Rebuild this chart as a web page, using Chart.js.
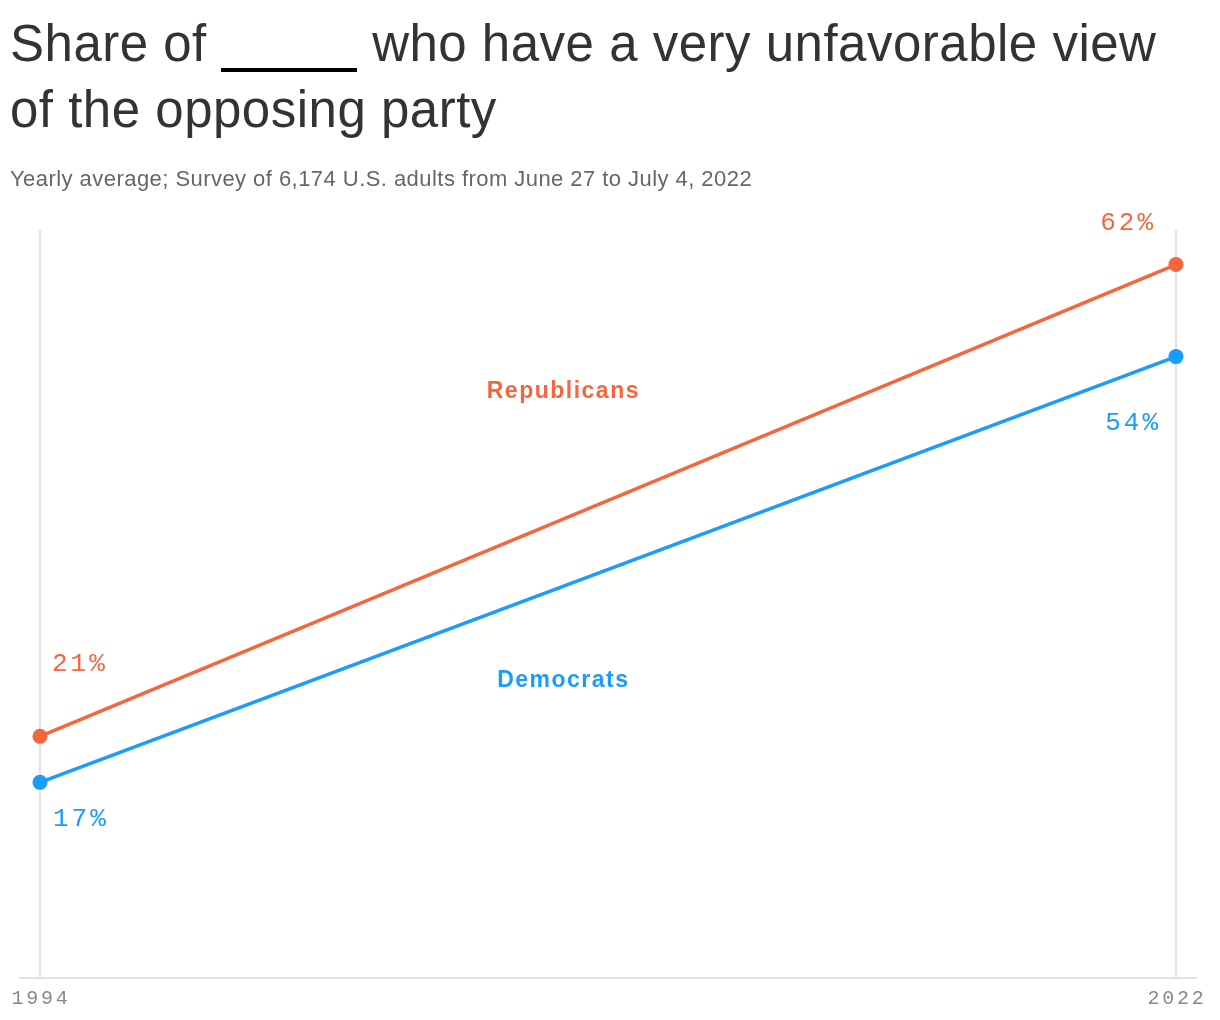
<!DOCTYPE html>
<html>
<head>
<meta charset="utf-8">
<script src="https://cdn.jsdelivr.net/npm/chart.js@4.4.1/dist/chart.umd.min.js"></script>
<style>
  html, body { margin: 0; padding: 0; background: #fff; width: 1220px; height: 1020px; overflow: hidden; }
  #wrap { position: relative; width: 1220px; height: 1020px; }
  #chart { position: absolute; left: 0; top: 0; }
  #title { position: absolute; left: 10px; top: 11px; margin: 0; font-family: "Liberation Sans", Arial, sans-serif; font-weight: 400; font-size: 51px; line-height: 66px; color: #333; letter-spacing: 0.5px; white-space: nowrap; }
  #title .blank { display: inline-block; width: 136px; height: 10px; border-bottom: 4px solid #000; vertical-align: baseline; margin-bottom: -11px; }
  #subtitle { position: absolute; left: 10px; top: 166px; margin: 0; font-family: "Liberation Sans", Arial, sans-serif; font-size: 22px; line-height: 26px; color: #666; letter-spacing: 0.45px; white-space: nowrap; }
</style>
</head>
<body>
<div id="wrap">
  <canvas id="chart" width="1220" height="1020"></canvas>
  <h1 id="title">Share of <span class="blank"></span> who have a very unfavorable view<br>of the opposing party</h1>
  <p id="subtitle">Yearly average; Survey of 6,174 U.S. adults from June 27 to July 4, 2022</p>
</div>
<script>
const years = [1994, 2022];
const tickLabels = ['1994', '2022'];
const republicans = [21, 62];
const democrats = [17, 54];
const seriesNames = ['Republicans', 'Democrats'];
const colors = ['#F4673E', '#189DFC'];

const toPoints = (vals) => years.map((y, i) => ({ x: y, y: vals[i] }));

const labelPlugin = {
  id: 'labels',
  beforeDatasetsDraw(chart) {
    const ctx = chart.ctx;
    const xs = chart.scales.x, ys = chart.scales.y;
    const area = chart.chartArea;
    const y0 = ys.getPixelForValue(0);
    ctx.save();
    ctx.strokeStyle = '#e2e2e2';
    ctx.lineWidth = 2;
    ctx.beginPath();
    ctx.moveTo(area.left - 21, y0);
    ctx.lineTo(area.right + 21, y0);
    ctx.stroke();
    // tick labels
    ctx.fillStyle = '#888888';
    ctx.font = '20px "Liberation Mono", "DejaVu Sans Mono", monospace';
    ctx.letterSpacing = '2.8px';
    ctx.textAlign = 'center';
    ctx.textBaseline = 'alphabetic';
    years.forEach((yr, i) => {
      ctx.fillText(tickLabels[i], xs.getPixelForValue(yr) + 1, y0 + 26);
    });
    ctx.restore();
  },
  afterDatasetsDraw(chart) {
    const ctx = chart.ctx;
    const xs = chart.scales.x, ys = chart.scales.y;
    ctx.save();
    // value labels
    ctx.font = '26px "Liberation Mono", "DejaVu Sans Mono", monospace';
    ctx.letterSpacing = '3px';
    ctx.textBaseline = 'middle';
    const put = (txt, color, x, y, align) => {
      ctx.fillStyle = color; ctx.textAlign = align; ctx.fillText(txt, x, y);
    };
    const xa = xs.getPixelForValue(years[0]);
    const xb = xs.getPixelForValue(years[1]);
    put(republicans[0] + '%', colors[0], xa + 12, ys.getPixelForValue(republicans[0]) - 72, 'left');
    put(democrats[0] + '%', colors[1], xa + 13, ys.getPixelForValue(democrats[0]) + 37, 'left');
    put(republicans[1] + '%', colors[0], xb - 20, ys.getPixelForValue(republicans[1]) - 41, 'right');
    put(democrats[1] + '%', colors[1], xb - 15, ys.getPixelForValue(democrats[1]) + 67, 'right');
    // series labels
    ctx.font = 'bold 23px "Liberation Sans", Arial, sans-serif';
    ctx.letterSpacing = '1.5px';
    ctx.textAlign = 'center';
    ctx.textBaseline = 'alphabetic';
    const xm = xs.getPixelForValue(2006.9);
    ctx.fillStyle = colors[0];
    ctx.fillText(seriesNames[0], xm, ys.getPixelForValue(51.1) + 8);
    ctx.fillStyle = colors[1];
    ctx.fillText(seriesNames[1], xm, ys.getPixelForValue(26.0) + 8);
    ctx.restore();
  }
};

new Chart(document.getElementById('chart'), {
  type: 'line',
  data: {
    datasets: [
      { label: seriesNames[0], data: toPoints(republicans), borderColor: colors[0], backgroundColor: colors[0],
        borderWidth: 3.5, pointRadius: 7.5, pointBorderWidth: 0, pointBackgroundColor: colors[0], clip: false },
      { label: seriesNames[1], data: toPoints(democrats), borderColor: colors[1], backgroundColor: colors[1],
        borderWidth: 3.5, pointRadius: 7.5, pointBorderWidth: 0, pointBackgroundColor: colors[1], clip: false }
    ]
  },
  options: {
    responsive: false,
    animation: false,
    devicePixelRatio: 1,
    layout: { padding: { top: 230, left: 40, right: 44, bottom: 42 } },
    plugins: { legend: { display: false }, tooltip: { enabled: false }, title: { display: false } },
    scales: {
      x: {
        type: 'linear', min: years[0], max: years[1],
        afterBuildTicks: (s) => { s.ticks = years.map(v => ({ value: v })); },
        ticks: { display: false },
        grid: { color: '#e2e2e2', lineWidth: 2, drawTicks: false },
        border: { display: false }
      },
      y: { display: false, min: 0, max: 65 }
    }
  },
  plugins: [labelPlugin]
});
</script>
</body>
</html>
